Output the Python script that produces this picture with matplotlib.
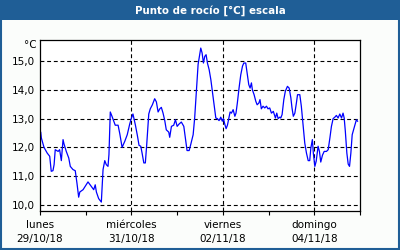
import matplotlib
matplotlib.use("Agg")
import matplotlib.pyplot as plt
from matplotlib.patches import Rectangle

# hours since lunes 29/10/18 00:00
hours = [0.4, 0.7, 2.1, 3.8, 5.1, 5.9, 6.8, 7.4, 8.0, 9.5, 10.3, 11.2, 12.1, 12.6,
         13.8, 15.1, 15.9, 17.3, 18.5, 19.4, 20.3, 20.9, 22.6, 25.2, 26.9, 28.2,
         29.0, 29.6, 30.8, 32.2, 33.1, 34.0, 34.8, 35.7, 36.2, 36.9, 37.8, 39.5,
         41.0, 41.9, 43.1, 44.5, 45.8, 47.1, 47.9, 48.8, 50.1, 51.1, 52.0, 52.9,
         53.6, 54.5, 55.3, 56.0, 57.1, 57.9, 59.0, 60.2, 61.1, 62.0, 62.9, 63.7,
         64.6, 65.5, 66.3, 67.6, 68.1, 69.0, 70.2, 71.1, 72.0, 73.0, 74.2, 75.5,
         76.3, 77.2, 78.3, 79.1, 80.4, 81.2, 82.1, 83.0, 83.9, 84.4, 85.1, 85.8,
         86.5, 87.2, 87.9, 88.8, 89.7, 90.5, 91.4, 92.3, 93.1, 94.0, 94.9, 95.7,
         96.3, 97.0, 97.7, 98.4, 99.1, 99.8, 100.5, 101.4, 102.3, 102.9, 103.6,
         104.5, 105.4, 106.3, 107.0, 108.0, 108.9, 109.6, 110.3, 111.0, 111.5,
         112.4, 113.3, 114.0, 114.9, 115.5, 116.2, 117.1, 118.0, 118.9, 119.7,
         120.6, 121.5, 122.5, 123.6, 124.3, 125.0, 125.9, 126.4, 127.1, 128.0,
         128.8, 129.9, 130.8, 131.7, 132.3, 133.0, 133.8, 134.6, 135.2, 136.4,
         137.2, 138.1, 139.0, 139.9, 140.8, 141.6, 142.2, 143.0, 143.5, 144.3,
         145.0, 146.0, 146.7, 147.4, 148.3, 149.2, 150.4, 151.3, 152.2, 153.0,
         153.9, 154.8, 155.6, 156.5, 157.4, 158.3, 159.1, 159.7, 160.3, 161.1,
         161.8, 162.5, 163.2, 163.9, 164.6, 165.3, 166.1, 166.7]
dewpoint = [12.52, 12.33, 12.0, 11.8, 11.69, 11.17, 11.19, 11.4, 11.92, 11.86, 11.92,
            11.54, 12.27, 12.12, 11.86, 11.63, 11.34, 11.23, 11.19, 10.76, 10.27,
            10.45, 10.53, 10.8, 10.65, 10.53, 10.7, 10.45, 10.22, 10.1, 11.23,
            11.54, 11.4, 11.34, 11.75, 13.23, 13.08, 12.77, 12.77, 12.47, 12.0,
            12.21, 12.44, 12.81, 13.0, 13.16, 12.77, 12.42, 12.07, 12.04, 11.8,
            11.46, 11.46, 12.07, 13.16, 13.34, 13.48, 13.69, 13.58, 13.23, 13.34,
            13.39, 13.19, 12.93, 12.61, 12.53, 12.35, 12.73, 12.77, 12.96, 12.73,
            12.81, 12.88, 12.73, 12.33, 11.89, 11.89, 12.09, 12.44, 13.02, 13.95,
            14.88, 15.25, 15.45, 15.28, 14.93, 15.16, 15.22, 14.93, 14.7, 14.35,
            13.95, 13.48, 13.02, 13.0, 12.93, 13.05, 12.91, 13.0, 12.81, 12.65,
            12.77, 13.0, 13.23, 13.19, 13.31, 13.08, 13.19, 13.54, 14.06, 14.52,
            14.82, 14.93, 14.93, 14.52, 14.18, 14.06, 14.24, 14.0, 13.83, 13.6,
            13.48, 13.54, 13.66, 13.34, 13.43, 13.37, 13.43, 13.34, 13.37, 13.19,
            13.25, 13.02, 13.19, 13.0, 13.05, 13.02, 13.14, 13.66, 13.95, 14.12,
            14.06, 13.72, 13.37, 13.08, 13.19, 13.54, 13.83, 13.83, 13.43, 12.79,
            12.15, 11.8, 11.54, 11.54, 11.98, 12.27, 11.8, 11.34, 11.52, 12.04,
            11.86, 11.49, 11.73, 11.86, 11.86, 11.92, 12.33, 12.73, 13.0, 13.05,
            13.11, 13.02, 13.16, 13.02, 13.19, 13.02, 12.56, 11.8, 11.42, 11.34,
            11.8, 12.44, 12.61, 12.79, 12.96, 12.91]

day_ticks = [0, 48, 96, 144]
day_labels = ["lunes\n29/10/18", "miércoles\n31/10/18", "viernes\n02/11/18", "domingo\n04/11/18"]
minor_ticks = [24, 72, 120, 168]
y_ticks = [10, 11, 12, 13, 14, 15]
y_labels = ["10,0", "11,0", "12,0", "13,0", "14,0", "15,0"]

blue = "#1f5e96"
plt.rcParams['font.family'] = ['DejaVu Sans']

fig = plt.figure(figsize=(4, 2.5), dpi=100)
fig.patch.set_facecolor("#fbfdfb")

# title bar and frame
fig.patches.append(Rectangle((0, 0.92), 1, 0.08, transform=fig.transFigure,
                             facecolor=blue, edgecolor="none", zorder=0))
fig.patches.append(Rectangle((0.002, 0.004), 0.996, 0.996, transform=fig.transFigure,
                             facecolor="none", edgecolor=blue, linewidth=1.5, zorder=0))
fig.text(0.525, 0.958, "Punto de rocío [°C] escala", color="white", fontsize=7.4,
         fontweight="bold", ha="center", va="center")

ax = fig.add_axes([0.1, 0.156, 0.8, 0.684])
ax.set_facecolor("white")
ax.plot(hours, dewpoint, color="#0000ff", linewidth=0.9)

ax.set_xlim(0, 168)
ax.set_ylim(9.79, 15.73)
ax.set_xticks(day_ticks)
ax.set_xticklabels(day_labels, fontsize=7.5, linespacing=1.5)
ax.set_xticks(minor_ticks, minor=True)
ax.set_yticks(y_ticks)
ax.set_yticklabels(y_labels, fontsize=7.5)
ax.tick_params(axis="x", which="both", direction="out", length=3, width=0.8, pad=3.5)
ax.tick_params(axis="y", length=0, pad=4)

dash = (0, (3.5, 2.5))
for y in y_ticks:
    ax.axhline(y, color="black", linewidth=0.8, linestyle=dash, zorder=1)
for x in day_ticks[1:]:
    ax.axvline(x, color="black", linewidth=0.8, linestyle=dash, zorder=1)

for s in ax.spines.values():
    s.set_linewidth(0.9)

fig.text(0.075, 0.82, "°C", fontsize=7.5, ha="center", va="center")

fig.savefig("out.png", dpi=100, facecolor=fig.get_facecolor())
